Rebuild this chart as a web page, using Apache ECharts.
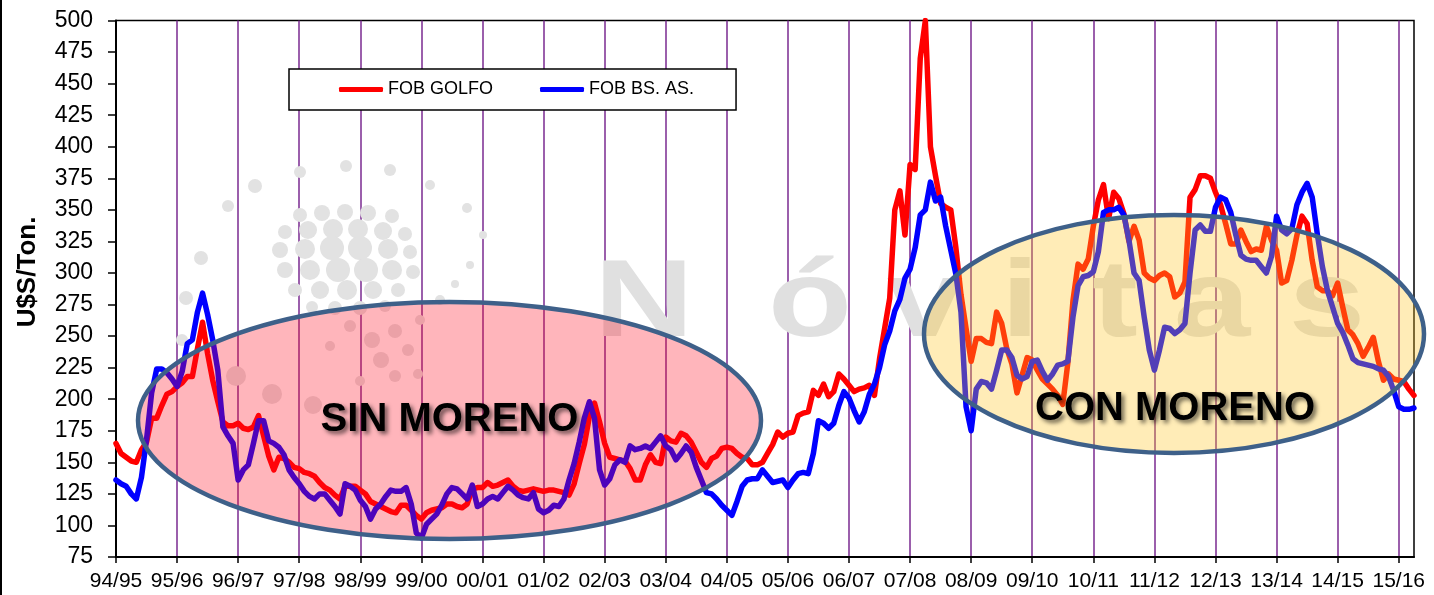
<!DOCTYPE html>
<html>
<head>
<meta charset="utf-8">
<script src="https://cdn.jsdelivr.net/npm/echarts@6/dist/echarts.min.js"></script>
<style>
html,body{margin:0;padding:0;background:#fff;}
#c{width:1434px;height:595px;}
</style>
</head>
<body>
<div id="c"></div>
<script>
// Season labels (one every 12 months)
const seasons = ['94/95','95/96','96/97','97/98','98/99','99/00','00/01','01/02','02/03','03/04','04/05',
  '05/06','06/07','07/08','08/09','09/10','10/11','11/12','12/13','13/14','14/15','15/16'];

// FOB GOLFO (U$S/Ton.), monthly
const fobGolfo = [
  165,157,154,151,150,160,166,185,185,195,204,206,
  210,213,218,218,240,261,236,215,198,182,179,179,
  181,177,176,178,187,171,155,144,154,153,150,146,
  145,142,141,139,134,130,128,124,121,131,131,131,
  128,125,119,117,115,113,111,110,116,116,112,108,
  105,110,112,113,114,117,117,115,114,117,129,130,
  130,134,131,132,134,136,131,128,127,128,129,128,
  127,128,128,127,126,124,133,149,164,186,197,182,
  165,154,153,152,151,145,136,136,148,156,150,149,
  170,167,166,173,171,166,158,150,146,153,155,161,
  162,161,157,154,153,148,148,150,157,164,174,170,
  173,174,187,189,190,207,203,212,202,206,220,216,
  211,206,208,209,211,203,232,256,280,350,365,330,
  386,382,470,500,400,377,355,352,350,320,283,256,
  230,248,248,245,244,269,260,240,228,205,219,233,
  231,223,216,212,208,203,196,229,278,307,303,311,
  337,358,370,343,364,359,347,325,337,326,300,296,
  294,298,300,297,281,284,293,360,366,377,377,375,
  364,354,339,323,323,334,325,317,319,318,337,326,
  318,292,294,310,330,345,339,310,289,286,286,282,
  292,273,255,251,244,234,241,249,230,215,220,216,
  215,214,208,203
];

// FOB BS. AS. (U$S/Ton.), monthly
const fobBsAs = [
  136,133,131,125,121,138,168,205,224,224,221,216,
  210,222,244,247,269,284,267,247,223,178,171,165,
  136,144,148,165,183,183,167,165,162,156,144,138,
  133,127,123,121,125,125,120,115,109,133,131,128,
  120,115,105,113,117,123,128,127,127,130,117,94,
  90,101,105,109,116,125,130,129,125,121,132,115,
  117,121,123,121,126,131,128,124,122,121,126,113,
  110,112,116,115,121,136,149,166,185,198,185,144,
  132,137,148,152,150,163,160,161,163,161,166,171,
  163,160,152,157,163,158,146,136,126,125,121,116,
  112,108,119,131,136,137,137,144,139,134,135,136,
  130,136,141,142,141,157,183,181,177,181,195,206,
  201,191,182,190,204,212,225,243,254,270,279,296,
  303,320,346,350,372,357,360,337,318,299,269,194,
  175,208,214,213,208,223,239,239,233,219,216,218,
  230,231,222,215,220,227,228,230,265,290,297,298,
  301,317,348,350,350,352,346,326,300,294,265,239,
  223,239,257,256,252,255,260,300,334,338,333,333,
  352,360,358,348,330,314,311,310,310,305,300,313,
  345,334,331,335,354,364,371,360,331,305,286,273,
  260,253,243,232,229,228,227,226,224,223,218,207,
  194,192,192,193
];

const seriesNames = ['FOB GOLFO', 'FOB BS. AS.'];
const yTitle = 'U$S/Ton.';
const periodLabels = ['SIN MORENO', 'CON MORENO'];
const watermark = ['N','ó','v','i','t','a','s'];

const months = fobGolfo.map((_, i) => seasons[Math.floor(i / 12)] + '-' + (i % 12 + 1));
const atSeason = (i) => i % 12 === 0;
const FONT = '"Liberation Sans", Arial, sans-serif';

const chart = echarts.init(document.getElementById('c'), null, {renderer: 'canvas'});

// decorative watermark (logo dots + letters)
const wmX = [644, 810, 925, 1020, 1115, 1212, 1327];
const logoDots = [
  [255,186,7],[300,172,6],[346,166,6],[390,170,6],[430,185,5],[228,206,6],[201,258,7],[186,298,7],
  [182,340,6],[467,208,5],[483,235,4],
  [300,215,7],[322,213,8],[345,212,8],[368,213,8],[392,216,7],
  [285,232,7],[308,230,9],[333,229,10],[358,229,10],[383,231,9],[405,234,7],
  [280,250,8],[305,249,10],[332,248,12],[360,248,12],[388,249,10],[410,252,7],
  [285,270,8],[310,270,10],[338,270,12],[366,270,12],[392,270,10],[413,272,7],
  [295,290,7],[320,290,9],[347,290,10],[373,290,9],[398,290,7],
  [312,307,6],[335,308,7],[360,308,7],[385,306,6],
  [350,326,6],[372,340,8],[395,331,7],[381,360,8],[408,350,6],[420,320,5],[440,300,5],
  [455,284,4],[470,265,4],[330,346,5],[395,376,6],[418,374,5],[360,381,5],
  [236,376,10],[272,394,10],[313,405,9]
];
const graphics = [
  {type: 'rect', shape: {x: 0, y: 0, width: 2, height: 595}, style: {fill: '#000'}, z: 100}
];
logoDots.forEach(d => {
  graphics.push({type: 'circle', shape: {cx: d[0], cy: d[1], r: d[2]}, z: 1, silent: true,
    style: {fill: '#E2E2E2'}});
});
watermark.forEach((ch, k) => {
  graphics.push({
    type: 'text', x: wmX[k], y: 306, scaleX: 1.25, z: 1, silent: true,
    style: {text: ch, font: 'bold 110px ' + FONT, fill: '#E0E0E0', align: 'center', verticalAlign: 'middle'}
  });
});
graphics.push(
  {type: 'ellipse', shape: {cx: 449.5, cy: 420.5, rx: 311.5, ry: 118.5}, z: 50,
   style: {fill: 'rgba(255,10,30,0.30)', stroke: '#3E6089', lineWidth: 4.5}},
  {type: 'ellipse', shape: {cx: 1174, cy: 334, rx: 250, ry: 119}, z: 50,
   style: {fill: 'rgba(255,195,30,0.32)', stroke: '#3E6089', lineWidth: 4.5}},
  {type: 'text', x: 449.5, y: 420, z: 51,
   style: {text: periodLabels[0], font: 'bold 40px ' + FONT, fill: '#000', align: 'center', verticalAlign: 'middle',
           textShadowColor: 'rgba(0,0,0,0.55)', textShadowBlur: 4, textShadowOffsetX: 3, textShadowOffsetY: 3}},
  {type: 'text', x: 1175, y: 409, z: 51,
   style: {text: periodLabels[1], font: 'bold 40px ' + FONT, fill: '#000', align: 'center', verticalAlign: 'middle',
           textShadowColor: 'rgba(0,0,0,0.55)', textShadowBlur: 4, textShadowOffsetX: 3, textShadowOffsetY: 3}},
  {type: 'text', x: 28, y: 272, rotation: Math.PI / 2, z: 51,
   style: {text: yTitle, font: 'bold 26px ' + FONT, fill: '#000', align: 'center', verticalAlign: 'middle'}}
);

chart.setOption({
  animation: false,
  backgroundColor: '#fff',
  grid: {left: 116, right: 20, top: 20.5, bottom: 38, show: true, borderColor: '#000', borderWidth: 1.5, backgroundColor: 'transparent'},
  legend: {
    data: seriesNames, left: 289, top: 69, icon: 'roundRect', itemWidth: 44, itemHeight: 5, itemGap: 47,
    padding: [11, 42, 11, 50], backgroundColor: '#fff', borderColor: '#000', borderWidth: 1.5,
    textStyle: {fontSize: 18, color: '#000', fontFamily: FONT, lineHeight: 19}
  },
  xAxis: {
    type: 'category', data: months, boundaryGap: false,
    axisLine: {lineStyle: {color: '#000', width: 2}},
    axisTick: {interval: atSeason, length: 6, lineStyle: {color: '#000', width: 1.5}},
    axisLabel: {interval: atSeason, color: '#000', fontSize: 21, fontFamily: FONT, margin: 14,
      formatter: (v, i) => seasons[Math.floor(i / 12)]},
    splitLine: {show: true, interval: atSeason, lineStyle: {color: '#7A2A90', width: 1.5}}
  },
  yAxis: {
    type: 'value', min: 75, max: 500, interval: 25,
    axisLine: {show: true, lineStyle: {color: '#000', width: 2}},
    axisTick: {show: true, length: 8, lineStyle: {color: '#000', width: 1.5}},
    axisLabel: {color: '#000', fontSize: 23, fontFamily: FONT, margin: 23},
    splitLine: {show: false}
  },
  series: [
    {name: seriesNames[0], type: 'line', data: fobGolfo, showSymbol: false, symbol: 'none', z: 3,
     itemStyle: {color: '#FF0000'}, lineStyle: {color: '#FF0000', width: 5.5, cap: 'round', join: 'round'}},
    {name: seriesNames[1], type: 'line', data: fobBsAs, showSymbol: false, symbol: 'none', z: 4,
     itemStyle: {color: '#0000FF'}, lineStyle: {color: '#0000FF', width: 5.5, cap: 'round', join: 'round'}}
  ],
  graphic: {elements: graphics}
});
</script>
</body>
</html>
